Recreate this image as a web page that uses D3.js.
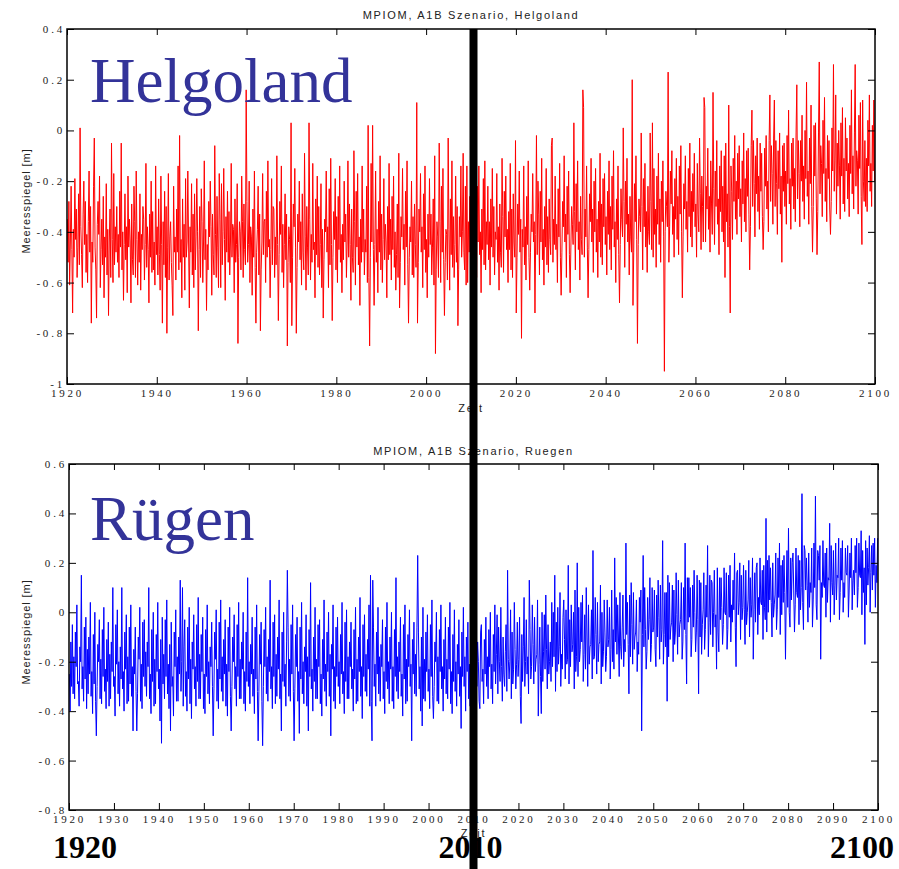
<!DOCTYPE html>
<html>
<head>
<meta charset="utf-8">
<script src="https://cdn.jsdelivr.net/npm/d3@7"></script>
<style>
  body { margin: 0; background: #fff; }
  svg { display: block; }
  .tick text { font-family: "Liberation Serif", "Times New Roman", serif; font-size: 11px; letter-spacing: 2.8px; fill: #222; }
  .tick line { stroke: #000; stroke-width: 1; }
  .title, .xlabel, .ylabel { font-family: "Liberation Sans", Arial, sans-serif; font-size: 11px; fill: #222; }
  .title { letter-spacing: 1.7px; }
  .xlabel { letter-spacing: 1.8px; }
  .ylabel { letter-spacing: 0.9px; }
  .station { font-family: "Liberation Serif", "Times New Roman", serif; font-size: 63px; fill: #333399; }
  .yearmark { font-family: "Liberation Serif", "Times New Roman", serif; font-size: 32px; font-weight: bold; fill: #000; }
</style>
</head>
<body>
<svg id="chart" width="899" height="869"></svg>
<script>
// bi-monthly sea level in cm, 1920..2100 (6 values a year)
const helgolandCm = [
  -35,-52,-28,-61,-44,-22, -47,-72,-39,-50,-19,-43, -31,-58,-46,-25,-53,1, -38,-49,-62,-33,-20,-45, -28,-56,-41,-60,-36,-16,
  -48,-30,-76,-44,-52,-22, -3,-46,-55,-74,-37,-28, -41,-18,-62,-47,-35,-53, -26,-66,-42,-50,-21,-57, -39,-73,-44,-31,-58,-5,
  -43,-60,-17,-53,-38,-48, -30,-52,-41,-58,-24,-46, -5,-55,-40,-67,-45,-25, -51,-38,-64,-18,-46,-35, -44,-68,-29,-51,-57,-22,
  -36,-58,-16,-43,-61,-40, -52,-25,-63,-41,-47,-30, -35,-59,-45,-13,-54,-38, -47,-68,-33,-50,-20,-56, -32,-55,-44,-61,-14,-49,
  -38,-57,-27,-49,-63,-18, -45,-76,-36,-53,-24,-58, -30,-80,-46,-17,-59,-42, -36,-52,-61,-73,-22,-48, -42,-59,-31,-48,-14,-55,
  -2,-52,-43,-66,-27,-50, -37,-63,-19,-50,-44,-16, -44,-70,-38,-48,-21,-57, -33,-62,-25,-55,-42,-19, -40,-79,-47,-30,-58,-23,
  -36,-60,-44,-12,-51,-39, -71,-45,-55,-28,-42,-20, -38,-65,-33,-49,-57,-6, -41,-58,-26,-46,-62,-17, -35,-62,-21,-53,-40,-15,
  -43,-67,-34,-48,-24,-52, -32,-57,-44,-13,-50,-37, -39,-64,-27,-52,-45,-21, -84,-50,-36,-40,-55,-18, -36,-58,-29,-47,-53,16,
  -28,-52,-45,-20,-60,-38, -42,-65,-31,-50,-16,-54, -76,-48,-39,-22,-57,-33, -79,-55,-44,-17,-49,-36, -35,-60,-24,-50,-12,-46,
  -43,-66,-47,-19,-53,-30, -31,-58,-42,-53,-10,-45, -75,-49,-28,-41,-14,-56, -37,-62,-45,-25,-51,-33, -85,-52,-38,-43,-60,3,
  -77,-50,-29,-38,-15,-46, -80,-54,-33,-44,-20,-51, -36,-61,-25,-48,-55,-9, -42,-63,-30,-46,-57,3, -35,-59,-41,-52,-13,-47,
  -44,-66,-27,-49,-18,-54, -30,-57,-45,-21,-62,-39, -74,-51,-35,-40,-16,-48, -38,-62,-23,-53,-11,-45, -75,-50,-32,-43,-19,-55,
  -34,-60,-26,-47,-14,-52, -41,-64,-37,-51,-20,-44, -33,-58,-44,-12,-50,-29, -45,-67,-31,-50,-56,-8, -36,-61,-24,-46,-17,-53,
  -42,-69,-35,-52,-14,-48, -31,-57,-43,-48,-22,-60, 2,-58,-85,-50,-13,-44, 2,-47,-69,-45,-16,-52, -39,-64,-28,-48,-10,-55,
  -33,-60,-43,-19,-51,-37, -44,-66,-30,-51,-13,-49, -35,-59,-26,-47,-18,-54, -40,-63,-49,-29,-58,-9, -70,-52,-34,-42,-15,-47,
  -37,-61,-24,-46,-12,-53, -76,-50,-38,-44,-20,-57, -34,-58,-29,-45,-54,11, -76,-52,-31,-40,-17,-48, -38,-62,-25,-47,-14,-56,
  -43,-66,-33,-50,-19,-45, -33,-57,-46,-27,-61,-10, -88,-55,-36,-42,-58,-5, -36,-60,-22,-48,-15,-51, -73,-52,-39,-41,-59,-3,
  -39,-63,-27,-49,-12,-54, -34,-58,-45,-18,-52,-30, -77,-55,-34,-42,-14,-50, -40,-9,-48,-55,-22,-61, -14,-60,-36,-48,-26,-52,
  -37,-62,-30,-50,-16,-58, -33,-58,-22,-44,-14,-49, -40,-64,-31,-47,-19,-53, -12,-55,-36,-45,-22,-51, -36,-61,-27,-46,-15,-50,
  -30,-57,-40,-43,-17,-52, -38,-63,-29,-48,-54,-11, -34,-56,-24,-42,-18,-47, -39,-60,-32,-47,-13,-55, -31,-58,-25,-44,-50,-4,
  -72,-50,-29,-41,-16,-48, -35,-82,-39,-46,-14,-53, -38,-59,-26,-45,-12,-50, -63,-48,-33,-40,-17,-44, -36,-72,-41,-2,-49,-20,
  -33,-57,-24,-44,-11,-51, -39,-61,-30,-46,-15,-53, -34,-56,-27,-43,-49,-6, -3,-52,-35,-45,-18,-47, -37,-60,-23,-42,-13,-50,
  -65,-48,-28,-38,-10,-44, -33,-58,-22,-41,-16,-49, -64,-46,-30,-37,-45,3, -32,-55,-21,-40,-12,-47, -36,-59,-26,-43,-49,16,
  9,-50,-31,-42,-14,-46, -66,-47,-25,-36,-11,-44, -31,-56,-20,-40,-15,-48, -35,-58,-28,-44,-9,-50, -29,-53,-19,-38,-17,-45,
  -34,-57,-24,-41,-12,-47, -30,-55,-18,-39,-8,-46, -36,-60,-27,-43,-14,-49, -68,-45,-23,-35,-42,1, -28,-54,-20,-37,-11,-44,
  -33,-57,-26,-42,-48,20, -69,-48,-21,-36,-10,-43, -84,-45,-27,-34,-40,-1, -30,-55,-19,-38,-13,-46, -32,-56,-22,-40,-45,-1,
  -28,-47,3,-50,-15,-41, -31,-54,-18,-37,-9,-45, -27,-52,-20,-36,-12,-42, -95,-40,-24,-30,-38,23, -52,-38,-16,-29,-8,-41,
  -30,-50,-19,-35,-11,-43, -26,-49,-14,-33,-6,-40, -66,-42,-21,-31,-10,-39, -28,-48,-15,-34,-5,-42, -24,-46,-17,-32,-9,-38,
  -29,-50,-13,-33,-40,-3, -25,-47,-18,-30,-44,13, 9,-44,-22,-31,-7,-39, -26,-48,-12,-29,-41,15, -23,-45,-16,-30,-4,-37,
  -27,-49,-14,-32,-8,-40, -22,-44,-10,-58,-5,-36, -25,-46,10,-38,-72,-14, -24,-43,-11,-28,-2,-35, -20,-41,-9,-27,-6,-34,
  -23,-44,-12,-29,-1,-36, -19,-40,-8,-26,-7,-33, -55,-38,-6,8,-30,-4, -21,-42,-10,-25,-3,-32, -18,-39,-5,-24,-9,-34,
  -47,-36,-7,-22,-2,-31, -20,-40,-4,14,-28,-6, -17,-37,-3,12,-30,-4, -21,-41,-8,-23,-1,-33, -18,-52,-6,-24,-5,-30,
  -16,-37,-2,-21,8,-29, -19,-39,-5,-22,-3,-31, -15,-36,-1,18,-27,-4, -17,-38,-4,-20,6,-28, -14,-35,0,-19,19,-26,
  -16,-37,-3,-21,10,-30, -48,-30,2,-18,3,-27, -49,-32,-1,27,-25,-6, -13,-34,4,-17,13,-28, -15,-36,-2,-19,-4,-31,
  -41,-28,1,-16,26,-24, -12,14,-33,-5,-22,0, -14,-35,3,-18,9,-29, -11,-32,5,-16,-3,-27, -13,-34,2,-17,16,-25,
  -10,-31,-1,26,-22,-8, -12,-33,6,-15,11,-26, -45,12,-20,-28,-4,-30, -11,-32,4,-14,14,-24, -13,-30,2,-16,12,-20
]

const ruegenCm = [
  -25,-40,-12,-30,-5,-33, -18,-35,-8,-22,3,-29, -28,-38,-14,-20,15,-31, -22,-36,-6,-27,-2,-39, -15,-33,-10,-25,4,-34,
  -24,-41,-9,-29,0,-36, -50,-30,-13,-20,-3,-35, -19,-37,-7,-26,2,-32, -23,-39,-11,-28,-4,-38, -17,-35,-12,-24,10,-30,
  -26,-42,-5,-21,1,-33, -20,-38,-14,-27,10,-31, -24,-40,-8,-23,-1,-37, -18,-36,-6,-29,3,-34, -22,-48,-15,-25,-6,-32,
  -48,-33,-10,-19,2,-36, -21,-39,-4,-26,-3,-30, -16,-34,-12,-22,10,-35, -25,-41,-7,-28,0,-38, -19,-37,-9,-24,4,-31,
  -23,-44,-11,-53,-2,-29, -17,-35,-3,-26,5,-33, -21,-39,-13,-48,-4,-30, -26,-42,-8,-22,1,-36, -18,-36,-10,-25,13,-32,
  -20,10,-38,-14,-3,-34, -24,-40,-6,-27,2,-37, -19,-43,-12,-23,-1,-31, -22,-38,-5,-28,6,-35, -17,-35,-9,-24,-2,-39,
  -25,-41,-7,-26,3,-33, -20,-37,-14,-22,-4,-30, -50,-31,-8,-19,1,-36, -23,-39,-4,-27,5,-32, -18,-36,-11,-25,-3,-38,
  -21,-42,-6,-24,2,-34, -48,-30,-10,-20,-1,-31, -22,-38,-5,-26,4,-35, -19,-35,-12,-23,0,-37, -24,-40,-8,-28,14,-30,
  -20,-37,-13,-25,-2,-34, -23,-41,-6,-27,3,-32, -52,-32,-9,-21,-4,-36, -54,-30,-7,-22,2,-33, -18,-36,-11,-24,13,-31,
  -22,-39,-4,-26,-1,-37, -17,-34,-10,-23,5,-35, -25,-48,-8,-28,0,-30, -21,-38,-12,17,-6,-34, -19,-36,-5,-25,3,-32,
  -52,-31,-9,-22,-2,-36, -24,-49,-6,-27,4,-33, -20,-37,-14,-24,-1,-38, -18,-48,-7,-26,12,-31, -23,-40,-10,-28,2,-35,
  -19,-35,-5,-22,-3,-37, -25,-42,-11,-27,5,-32, -21,-38,-8,-24,0,-34, -17,-50,-13,-23,3,-36, -22,-39,-6,-26,-2,-30,
  -20,-37,-9,-25,4,-33, -24,-41,-4,-28,1,-35, -18,-35,-12,-22,-4,-31, -23,-40,-7,-27,2,-37, -19,-36,-10,-24,6,-34,
  -22,-43,-5,-26,-1,-32, -17,-34,-11,-23,3,-38, 15,-36,-52,13,-6,-30, -21,-38,-8,-25,2,-33, -18,-36,-13,-22,-3,-35,
  -24,-41,-6,-28,4,-31, -20,-37,-10,-23,0,-36, -22,-39,-7,-26,14,-32, -18,-35,-12,-24,-2,-34, -25,-42,-5,-27,3,-37,
  -19,-36,-9,-22,1,-30, -21,-52,-11,-25,-4,-33, -17,-34,-6,23,-8,-31, -22,-40,-10,-46,2,-35, -19,-36,-8,-24,-1,-32,
  -23,-39,-5,-26,5,-34, -43,-30,-12,-20,0,-36, -18,-37,-7,-24,3,-31, -22,-40,-11,-27,-2,-33, -19,-35,-6,-23,4,-37,
  -24,-41,-9,-28,1,-32, -20,-38,-13,-25,-3,-34, -22,-47,-8,-26,2,-30, -18,-40,-10,-24,-4,-35, -21,-38,-6,-27,0,-33,
  -25,-37,4,-18,-30,-12, -20,-36,-39,-8,-5,-28, -23,-37,-11,-25,-2,-30, -18,-35,-7,-22,0,-31, -21,-37,-9,-24,3,-29,
  -17,-1,-33,-6,-20,-28, 2,-22,-36,-10,-25,-30, -16,-5,-32,17,-19,-27, -20,1,-35,-8,-29,-23, 4,-15,-31,-21,-4,-26,
  -19,-2,-34,-45,-9,-28, -14,6,-30,-20,-3,-25, -18,-33,13,-7,-27,-22, 3,-13,-29,-2,-24,-19, -17,5,-42,-21,-6,-26,
  -41,0,-28,-16,-1,-23, 7,-15,-31,-5,-25,-20, -12,-28,4,-22,0,-18, 15,-32,-4,-24,2,-21, -14,8,-30,-17,-23,-2,
  5,-11,-27,1,-21,-19, 19,-29,-3,-22,3,-16, -13,0,-31,9,-24,-18, 20,-26,2,-20,-15,4, -12,7,-28,-17,-1,-23,
  10,-10,-30,3,-21,-14, -13,1,-27,25,-19,-18, 6,-9,-25,4,-20,-13, -12,11,-29,0,-22,-16, 5,-8,-24,-18,5,-14,
  -11,2,-27,-15,9,-20, -7,-23,22,-12,6,-17, 3,-10,-26,8,-14,-19, -6,7,-22,-11,-16,28, -9,4,-13,-33,7,-18,
  12,-5,-21,8,-15,-10, -8,5,-24,-12,-17,6, -4,9,-48,-9,23,-14, 10,-7,-23,-16,6,-11, -3,14,-20,-13,10,-8,
  -6,9,-15,-22,7,-10, 13,-2,-19,11,-12,-7, 29,-21,-9,8,-14,8, -36,15,-18,12,-11,-6, -4,11,-20,9,-13,-8,
  16,-1,-17,13,-10,-5, -3,12,-19,-12,10,-7, 28,-9,-29,14,-4,14, -2,10,-18,-11,11,-6, 17,0,-16,-8,15,-3,
  -33,13,-10,12,-17,-5, 1,16,-15,-7,11,-2, 27,-18,-4,15,-9,13, 12,-14,0,17,-6,-1, -23,18,-8,-16,14,-3,
  14,2,-13,-5,18,0, -1,16,-15,-7,15,-2, 19,-12,3,-4,13,1, 24,-6,-22,16,17,-1, 4,20,-11,15,-3,2,
  19,1,-13,17,-5,0, 5,21,-10,14,-2,3, 22,-19,1,16,-4,18, 20,-9,6,-1,22,4, 3,17,-11,19,2,-3,
  38,-8,21,0,23,5, 18,4,-10,20,-2,3, 7,24,-7,1,22,6, 28,-9,19,-1,21,4, 23,8,-19,7,25,2,
  34,0,-6,22,5,20, 24,9,-8,3,26,8, 6,23,-5,21,1,10, 48,4,-7,27,25,9, 22,11,-4,24,2,12,
  8,26,-6,5,28,10, 47,3,-3,25,23,13, 27,-19,12,6,29,11, 10,24,-2,26,4,14, 13,36,-4,27,12,7,
  25,-1,11,28,5,15, 14,30,-3,8,26,13, 29,0,12,6,26,16, 15,27,-2,9,24,14, 30,1,13,17,7,27,
  16,30,2,10,28,15, 14,33,-1,25,8,18, -13,29,3,26,11,18, 31,0,16,27,9,28, 15,30,2,19,12,30
]

const topYearTicks = [1920, 1940, 1960, 1980, 2000, 2020, 2040, 2060, 2080, 2100]
const bottomYearTicks = [1920, 1930, 1940, 1950, 1960, 1970, 1980, 1990, 2000, 2010,
                         2020, 2030, 2040, 2050, 2060, 2070, 2080, 2090, 2100]
const topLevelTicks = [-1, -0.8, -0.6, -0.4, -0.2, 0, 0.2, 0.4]
const bottomLevelTicks = [-0.8, -0.6, -0.4, -0.2, 0, 0.2, 0.4, 0.6]
const markYears = ["1920", "2010", "2100"]
const markYear = 2010

var svg = d3.select("#chart")
var fmt = d => String(+d.toFixed(1))

var panels = [
    {
        values: helgolandCm, color: "#ff0000",
        left: 67, right: 875, top: 29, bottom: 384,
        yDomain: [-1, 0.4], xTicks: topYearTicks, yTicks: topLevelTicks,
        title: "MPIOM, A1B Szenario, Helgoland", station: "Helgoland",
        titleY: 19, stationY: 102, zeitY: 412, ylabelY: 201
    },
    {
        values: ruegenCm, color: "#0000ff",
        left: 69, right: 878, top: 464, bottom: 810,
        yDomain: [-0.8, 0.6], xTicks: bottomYearTicks, yTicks: bottomLevelTicks,
        title: "MPIOM, A1B Szenario, Ruegen", station: "Rügen",
        titleY: 455, stationY: 540, zeitY: 837, ylabelY: 632
    }
]

function drawPanel(p) {
    var x = d3.scaleLinear().domain([1920, 2100]).range([p.left, p.right])
    var y = d3.scaleLinear().domain(p.yDomain).range([p.bottom, p.top])
    var n = p.values.length
    var series = p.values.map((v, i) => ({ t: 1920 + (i + 0.5) * 180 / n, v: v / 100 }))

    var g = svg.append("g")

    g.append("path")
        .datum(series)
        .attr("fill", "none")
        .attr("stroke", p.color)
        .attr("stroke-width", 1)
        .attr("d", d3.line().x(d => x(d.t)).y(d => y(d.v)))

    // ticks pointing inwards on all four sides
    g.append("g")
        .attr("transform", "translate(0," + p.bottom + ")")
        .call(d3.axisBottom(x).tickValues(p.xTicks).tickFormat(d => d).tickSize(-7).tickSizeOuter(0).tickPadding(5))
        .call(a => a.select(".domain").remove())
    g.append("g")
        .attr("transform", "translate(0," + p.top + ")")
        .call(d3.axisTop(x).tickValues(p.xTicks).tickFormat("").tickSize(-6).tickSizeOuter(0))
        .call(a => a.select(".domain").remove())
    g.append("g")
        .attr("transform", "translate(" + p.left + ",0)")
        .call(d3.axisLeft(y).tickValues(p.yTicks).tickFormat(fmt).tickSize(-7).tickSizeOuter(0).tickPadding(2))
        .call(a => a.select(".domain").remove())
    g.append("g")
        .attr("transform", "translate(" + p.right + ",0)")
        .call(d3.axisRight(y).tickValues(p.yTicks).tickFormat("").tickSize(-7).tickSizeOuter(0))
        .call(a => a.select(".domain").remove())

    g.append("rect")
        .attr("x", p.left).attr("y", p.top)
        .attr("width", p.right - p.left).attr("height", p.bottom - p.top)
        .attr("fill", "none").attr("stroke", "#000").attr("stroke-width", 1.5)

    g.append("text").attr("class", "title")
        .attr("x", (p.left + p.right) / 2).attr("y", p.titleY)
        .attr("text-anchor", "middle").text(p.title)
    g.append("text").attr("class", "xlabel")
        .attr("x", (p.left + p.right) / 2).attr("y", p.zeitY)
        .attr("text-anchor", "middle").text("Zeit")
    g.append("text").attr("class", "ylabel")
        .attr("transform", "translate(30," + p.ylabelY + ") rotate(-90)")
        .attr("text-anchor", "middle").text("Meeresspiegel [m]")
    g.append("text").attr("class", "station")
        .attr("x", 90).attr("y", p.stationY).text(p.station)

    return x
}

var xs = panels.map(drawPanel)
var xBottom = xs[1]

// marker for the present day, running through both panels
svg.append("rect")
    .attr("x", xBottom(markYear) - 4).attr("y", panels[0].top)
    .attr("width", 8).attr("height", 869 - panels[0].top)
    .attr("fill", "#000")

svg.selectAll(".yearmark")
    .data(markYears)
    .enter().append("text")
    .attr("class", "yearmark")
    .attr("x", d => xBottom(+d) + (d == "1920" ? 16 : d == "2100" ? -16 : -3))
    .attr("y", 858)
    .attr("text-anchor", "middle")
    .text(d => d)
</script>
</body>
</html>
